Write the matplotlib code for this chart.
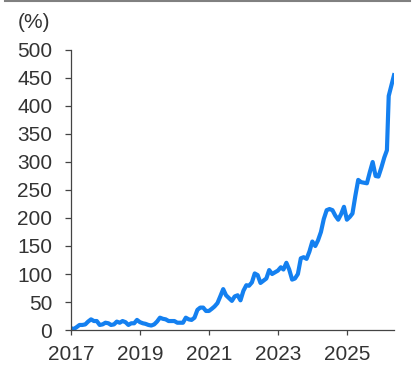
import pandas as pd
import matplotlib
matplotlib.use("Agg")
import matplotlib.pyplot as plt
import matplotlib.dates as mdates
from matplotlib.lines import Line2D

# Monthly values (Jan 2017 ..), plus two late 2026 points
values = [3, 2, 5, 9, 9, 10, 15, 19, 16, 16, 9, 10,
          13, 12, 9, 10, 15, 13, 16, 14, 9, 12, 12, 18,
          14, 12, 11, 9, 8, 10, 15, 22, 20, 19, 16, 16,
          16, 13, 13, 13, 22, 19, 18, 22, 36, 40, 40, 34,
          34, 38, 42, 48, 60, 73, 62, 57, 52, 60, 62, 53,
          70, 80, 79, 85, 101, 98, 84, 88, 92, 107, 100, 103,
          106, 112, 108, 120, 108, 90, 92, 100, 128, 130, 127, 140,
          158, 150, 160, 175, 198, 214, 216, 214, 204, 197, 207, 220,
          197, 202, 208, 240, 268, 264, 263, 262, 282, 300, 275, 274,
          290, 308, 321]
extra_dates = ["2026-03-20", "2026-05-15"]
extra_values = [418, 455]

yticks = [0, 50, 100, 150, 200, 250, 300, 350, 400, 450, 500]
xtick_years = [2017, 2019, 2021, 2023, 2025]

dates = list(pd.date_range("2017-01-01", periods=len(values), freq="MS"))
dates += list(pd.to_datetime(extra_dates))
series = values + extra_values

plt.rcParams["font.family"] = ["Liberation Sans", "DejaVu Sans"]

fig = plt.figure(figsize=(4.14, 3.72), dpi=100)
ax = fig.add_axes([0.1715, 0.1129, 0.7802, 0.7527])

ax.plot(dates, series, color="#1480F0", linewidth=3.0, solid_joinstyle="round")

ax.set_xlim(dates[0], dates[-1])
ax.set_ylim(0, 500)
ax.set_yticks(yticks)
ax.set_xticks([pd.Timestamp(f"{y}-01-01") for y in xtick_years])
ax.xaxis.set_major_formatter(mdates.DateFormatter("%Y"))

for s in ["top", "right"]:
    ax.spines[s].set_visible(False)
for s in ["left", "bottom"]:
    ax.spines[s].set_color("#444444")
    ax.spines[s].set_linewidth(0.9)

ax.tick_params(axis="y", length=4.5, width=0.9, color="#444444", pad=9,
               labelsize=15, labelcolor="#333333")
ax.tick_params(axis="x", length=3.5, width=0.9, color="#444444", pad=7,
               labelsize=15, labelcolor="#333333")

fig.text(34 / 414, 1 - 22 / 372, "(%)", ha="center", va="center",
         fontsize=15, color="#333333")

# thin grey rule along the top edge
fig.add_artist(Line2D([5 / 414, 410 / 414], [0.998, 0.998],
                      transform=fig.transFigure, color="#808080", linewidth=1.5))

fig.savefig("out.png", dpi=100)
